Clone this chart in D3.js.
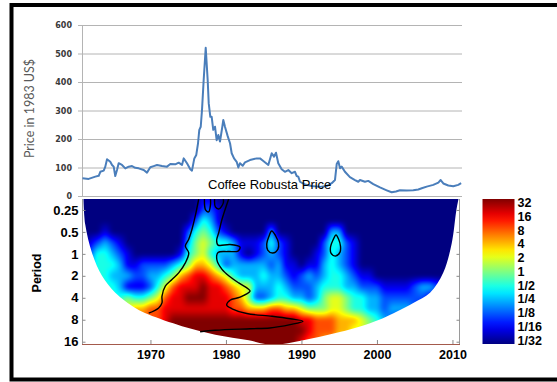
<!DOCTYPE html>
<html>
<head>
<meta charset="utf-8">
<script src="https://cdn.jsdelivr.net/npm/d3@7"></script>
<style>
  html, body { margin: 0; padding: 0; background: #fff; }
  svg { display: block; }
</style>
</head>
<body>
<svg id="chart" width="557" height="382"></svg>
<script>
// ---------- Coffee Robusta price (1983 US$) ----------
const priceYears = [
  1961.00, 1961.82, 1962.70, 1963.15, 1963.36, 1963.81, 1964.02, 1964.25, 1964.68, 1964.91,
  1965.13, 1965.34, 1965.57, 1965.79, 1966.23, 1966.67, 1967.12, 1967.56, 1967.99, 1968.44,
  1969.11, 1969.54, 1969.98, 1970.43, 1970.87, 1971.53, 1972.19, 1972.63, 1973.29, 1973.74,
  1974.18, 1974.40, 1974.84, 1975.28, 1975.50, 1975.81, 1976.07, 1976.30, 1976.47, 1976.66,
  1976.83, 1977.05, 1977.32, 1977.58, 1977.72, 1977.93, 1978.11, 1978.32, 1978.55, 1978.77,
  1978.99, 1979.21, 1979.52, 1979.65, 1979.87, 1980.23, 1980.54, 1980.76, 1981.07, 1981.42,
  1981.64, 1981.86, 1982.22, 1982.52, 1983.18, 1984.07, 1984.51, 1984.95, 1985.61, 1986.06,
  1986.36, 1986.63, 1986.93, 1987.38, 1987.81, 1988.26, 1988.71, 1989.15, 1989.37, 1989.58,
  1989.81, 1990.47, 1991.36, 1992.46, 1993.34, 1994.01, 1994.44, 1994.67, 1994.88, 1995.11,
  1995.33, 1995.76, 1996.42, 1997.09, 1997.53, 1997.75, 1998.41, 1998.85, 1999.52, 2000.40,
  2001.29, 2001.95, 2002.52, 2003.05, 2003.94, 2004.81, 2005.48, 2005.93, 2006.59, 2007.46,
  2008.13, 2008.44, 2008.79, 2009.45, 2010.11, 2010.77, 2011.15
];
const prices = [
   62,  60,  68,  71,  85,  89, 103, 129, 120, 109,
  103,  70,  91, 115, 109,  97, 103, 105,  99,  97,
   91,  82, 101, 105, 109, 105, 103, 112, 111, 117,
  109, 132, 115,  94,  89, 132, 144, 185, 232, 243,
  302, 407, 520, 407, 325, 278, 278, 232, 243, 196,
  214, 191, 243, 267, 243, 210, 185, 150, 132, 120,
  100, 115, 106, 118, 126, 132, 132, 123, 109, 150,
  138, 152, 115,  94,  85,  91,  80,  85,  70,  68,
   50,  40,  35,  32,  35,  45,  56, 112, 122,  97,
  103,  85,  66,  56,  50,  56,  50,  53,  42,  30,
   20,  13,  16,  20,  19,  20,  23,  27,  33,  39,
   47,  56,  44,  37,  34,  39,  45
];
const priceTicks = [0, 100, 200, 300, 400, 500, 600];

// ---------- Wavelet power spectrum ----------
const yearTicks = [1970, 1980, 1990, 2000, 2010];
const periodTicks = [0.25, 0.5, 1, 2, 4, 8, 16];
const periodTickLabels = ["0.25", "0.5", "1", "2", "4", "8", "16"];
const powerLabels = ["32", "16", "8", "4", "2", "1", "1/2", "1/4", "1/8", "1/16", "1/32"];

// Power grid: one column per year (1961..2011), one row per half octave of period.
// Each character is log2(power) + 5 (0 = 1/32 ... A = 32).
const gridYears = d3.range(1961, 2012);
const gridLog2Periods = [-2.5, -2, -1.5, -1, -0.5, 0, 0.5, 1, 1.5, 2, 2.5, 3, 3.5, 4];
const powerRows = [
  "0000000000" + "0000001100" + "0000000000" + "0000000000" + "0000000000" + "0",
  "0000000000" + "0000002210" + "0000000000" + "0000000000" + "0000000000" + "0",
  "0000000000" + "0000024310" + "0000000000" + "0000000000" + "0000000000" + "0",
  "0001000000" + "0000245421" + "0000030000" + "0003300000" + "0000000000" + "0",
  "0123210000" + "0000356544" + "3111242100" + "0024421000" + "0000000000" + "0",
  "1244321000" + "0001456433" + "3101232100" + "0124321000" + "0000000000" + "0",
  "2344431122" + "2234577642" + "3333323110" + "1134321000" + "0000000000" + "0",
  "2344333223" + "3457899876" + "4333433212" + "3234432110" + "0000000000" + "0",
  "4444431112" + "468999A998" + "7663334322" + "2344433222" + "1111233210" + "0",
  "4444445445" + "6899AAA999" + "8752234433" + "2356654433" + "2222221100" + "0",
  "6666666778" + "8999999999" + "8877788776" + "5556654433" + "2333210000" + "0",
  "8888888888" + "89AAAAAAAA" + "AAAAAAAAA9" + "9888777654" + "3210000000" + "0",
  "AAAAAAAAAA" + "AAAAAAAAAA" + "AAAAAAAAAA" + "9888776655" + "4321000000" + "0",
  "AAAAAAAAAA" + "AAAAAAAAAA" + "AAAAAAAAA9" + "8877665544" + "3321000000" + "0"
];

// Cone of influence (year, period)
const coiYears   = [1961.13, 1961.37, 1962.26, 1963.58, 1965.34, 1968.00, 1969.77, 1974.18, 1978.59, 1983.01,
                    1986.10, 1990.24, 1994.67, 1999.08, 2001.29, 2004.81, 2007.03, 2008.79, 2009.90, 2010.50, 2010.80];
const coiPeriods = [0.177, 0.40, 0.97, 2.0, 3.4, 5.5, 6.8, 9.8, 12.8, 15.3,
                    17.6, 15.3, 12.1, 8.9, 7.2, 4.7, 3.4, 1.8, 0.72, 0.26, 0.177];

// 95% significance contours (year, period)
const sigLeftEdge = [
  [1969.77, 6.51], [1971.09, 5.51], [1971.53, 4.70], [1971.53, 3.80], [1971.97, 2.77],
  [1972.85, 2.24], [1973.74, 1.82], [1974.62, 1.33], [1975.07, 0.97], [1974.62, 0.78],
  [1975.07, 0.63], [1975.50, 0.46], [1975.94, 0.30], [1976.39, 0.177]
];
const sigRightEdge = [
  [1980.36, 0.177], [1979.48, 0.336], [1979.04, 0.513], [1978.77, 0.646], [1978.95, 0.758],
  [1980.54, 0.745], [1981.86, 0.806], [1981.60, 0.915], [1980.27, 0.93], [1978.95, 0.96],
  [1978.81, 1.22], [1979.48, 1.63], [1980.54, 2.06], [1981.69, 2.5], [1982.92, 3.0],
  [1983.19, 3.25], [1981.86, 3.93], [1980.54, 4.32], [1980.10, 5.06], [1980.80, 5.66],
  [1982.75, 6.58], [1986.10, 7.16], [1988.50, 7.75], [1990.20, 8.39], [1988.50, 9.32],
  [1985.83, 10.37], [1983.19, 10.63], [1978.56, 11.15], [1976.58, 11.7]
];
const sigTopLoopA = [[1977.15, 0.177], [1977.30, 0.25], [1977.70, 0.266], [1977.95, 0.213], [1977.95, 0.177]];
const sigTopLoopB = [[1978.50, 0.177], [1978.60, 0.227], [1979.10, 0.242], [1979.65, 0.2], [1979.65, 0.177]];
const sigIsland1986 = [
  [1986.06, 0.486], [1986.59, 0.569], [1986.96, 0.71], [1986.89, 0.859],
  [1986.19, 0.975], [1985.53, 0.886], [1985.40, 0.733], [1985.66, 0.588]
];
const sigIsland1995 = [
  [1994.58, 0.552], [1994.91, 0.626], [1995.17, 0.781], [1995.11, 0.945],
  [1994.51, 1.072], [1993.91, 0.975], [1993.85, 0.806], [1994.18, 0.646]
];

// ---------- layout ----------
const FONT = "'Liberation Sans', Arial, sans-serif";
const svg = d3.select("#chart");

const plotL = 82, plotR = 460, topY0 = 25, topY1 = 196, wavY0 = 199, wavY1 = 344;

const x = d3.scaleLinear().domain([1961, 2011]).range([82.5, 460]);
const yPrice = d3.scaleLinear().domain([0, 600]).range([topY1, topY0]);
const yPeriod = d3.scaleLog().base(2).domain([0.177, 17.2]).range([wavY0, wavY1]);

// MATLAB-style jet colormap
function jet(t) {
  const c = v => Math.max(0, Math.min(1, v));
  return d3.rgb(
    Math.round(255 * c(1.5 - Math.abs(4 * t - 3))),
    Math.round(255 * c(1.5 - Math.abs(4 * t - 2))),
    Math.round(255 * c(1.5 - Math.abs(4 * t - 1)))
  );
}
const powerColor = d3.scaleSequential(jet).domain([-5, 5]).clamp(true);

// outer frame
svg.append("rect")
  .attr("x", 11.5).attr("y", 5).attr("width", 700).attr("height", 374.5)
  .attr("fill", "none").attr("stroke", "#000").attr("stroke-width", 4);

// ---------- top panel: price line ----------
const gPrice = svg.append("g").attr("transform", "translate(78,0)");
gPrice.call(d3.axisLeft(yPrice).tickValues(priceTicks)
    .tickSizeInner(-(462 - 78)).tickSizeOuter(0).tickPadding(6))
  .call(g => g.select(".domain").remove())
  .call(g => g.selectAll(".tick line").attr("stroke", "#b4b4b4").attr("stroke-width", 1))
  .call(g => g.selectAll(".tick text")
    .attr("font-family", "'DejaVu Sans', sans-serif").attr("font-weight", "bold")
    .attr("font-size", 8).attr("fill", "#3a3a3a"));

svg.append("line")
  .attr("x1", 82.5).attr("x2", 82.5).attr("y1", topY0).attr("y2", topY1)
  .attr("stroke", "#b4b4b4");

const priceLine = d3.line()
  .x((d, i) => x(priceYears[i]))
  .y(d => yPrice(d));
svg.append("path")
  .datum(prices)
  .attr("d", priceLine)
  .attr("fill", "none")
  .attr("stroke", "#4a7ebb")
  .attr("stroke-width", 2)
  .attr("stroke-linejoin", "round");

svg.append("text")
  .attr("x", 30).attr("y", 108.5)
  .attr("transform", "rotate(-90,30,108.5)")
  .attr("text-anchor", "middle").attr("dy", "0.35em")
  .attr("font-family", "Lato, 'Open Sans', sans-serif").attr("font-size", 12.5)
  .attr("fill", "#595959")
  .text("Price in 1983 US$");

svg.append("text")
  .attr("x", 208).attr("y", 189)
  .attr("font-family", FONT).attr("font-size", 13)
  .attr("fill", "#000")
  .text("Coffee Robusta Price");

// ---------- bottom panel: wavelet power ----------
const nC = gridYears.length, nR = gridLog2Periods.length;
const grid = powerRows.map(r => Array.from(r, ch => parseInt(ch, 11) - 5));
const dL = gridLog2Periods[1] - gridLog2Periods[0];

const cw = plotR - plotL, chh = wavY1 - wavY0, pad = 8;
const fw = cw + 2 * pad, fh = chh + 2 * pad;
let field = new Float32Array(fw * fh);
for (let j = 0; j < fh; j++) {
  const L = Math.log2(yPeriod.invert(wavY0 - pad + j + 0.5));
  let fj = (L - gridLog2Periods[0]) / dL;
  fj = Math.max(0, Math.min(nR - 1, fj));
  const j0 = Math.min(nR - 2, Math.floor(fj)), tj = fj - j0;
  for (let i = 0; i < fw; i++) {
    let fi = x.invert(plotL - pad + i + 0.5) - gridYears[0];
    fi = Math.max(0, Math.min(nC - 1, fi));
    const i0 = Math.min(nC - 2, Math.floor(fi)), ti = fi - i0;
    const a = grid[j0][i0], b = grid[j0][i0 + 1], c = grid[j0 + 1][i0], d = grid[j0 + 1][i0 + 1];
    field[j * fw + i] = (a * (1 - ti) + b * ti) * (1 - tj) + (c * (1 - ti) + d * ti) * tj;
  }
}
// soften the bilinear facets with a few box-blur passes
function boxBlur(src, r) {
  const tmp = new Float32Array(src.length), out = new Float32Array(src.length);
  for (let j = 0; j < fh; j++) for (let i = 0; i < fw; i++) {
    let s = 0, n = 0;
    for (let k = -r; k <= r; k++) { const ii = i + k; if (ii >= 0 && ii < fw) { s += src[j * fw + ii]; n++; } }
    tmp[j * fw + i] = s / n;
  }
  for (let j = 0; j < fh; j++) for (let i = 0; i < fw; i++) {
    let s = 0, n = 0;
    for (let k = -r; k <= r; k++) { const jj = j + k; if (jj >= 0 && jj < fh) { s += tmp[jj * fw + i]; n++; } }
    out[j * fw + i] = s / n;
  }
  return out;
}
field = boxBlur(boxBlur(field, 2), 2);

const canvas = document.createElement("canvas");
canvas.width = cw; canvas.height = chh;
const ctx = canvas.getContext("2d");
const img = ctx.createImageData(cw, chh);
for (let j = 0; j < chh; j++) for (let i = 0; i < cw; i++) {
  const col = powerColor(field[(j + pad) * fw + (i + pad)]);
  const k = 4 * (j * cw + i);
  img.data[k] = col.r; img.data[k + 1] = col.g; img.data[k + 2] = col.b; img.data[k + 3] = 255;
}
ctx.putImageData(img, 0, 0);

svg.append("clipPath").attr("id", "wavClip")
  .append("rect").attr("x", plotL).attr("y", wavY0).attr("width", cw).attr("height", chh);

const gWav = svg.append("g").attr("clip-path", "url(#wavClip)");
gWav.append("image")
  .attr("x", plotL).attr("y", wavY0).attr("width", cw).attr("height", chh)
  .attr("preserveAspectRatio", "none")
  .attr("href", canvas.toDataURL());

// cone of influence: blank out everything below it
const curve = d3.line().curve(d3.curveCatmullRom.alpha(0.5));
const coiPts = coiYears.map((yr, i) => [x(yr), yPeriod(coiPeriods[i])]);
const coiPath = "M" + plotL + "," + (wavY0 - 1) + "L" + curve(coiPts).slice(1) +
  "L" + plotR + "," + (wavY0 - 1) + "L" + plotR + "," + (wavY1 + 2) + "L" + plotL + "," + (wavY1 + 2) + "Z";
gWav.append("path").attr("d", coiPath).attr("fill", "#fff");

// significance contours
const toPx = arr => arr.map(([yr, p]) => [x(yr), yPeriod(p)]);
const openCurve = d3.line().curve(d3.curveCatmullRom.alpha(0.5));
const closedCurve = d3.line().curve(d3.curveCatmullRomClosed.alpha(0.5));
[sigLeftEdge, sigRightEdge, sigTopLoopA, sigTopLoopB].forEach(c => {
  gWav.append("path").attr("d", openCurve(toPx(c)))
    .attr("fill", "none").attr("stroke", "#000").attr("stroke-width", 1.4);
});
[sigIsland1986, sigIsland1995].forEach(c => {
  gWav.append("path").attr("d", closedCurve(toPx(c)))
    .attr("fill", "none").attr("stroke", "#000").attr("stroke-width", 1.4);
});

// frame and axes
svg.append("line").attr("x1", 459.5).attr("x2", 459.5).attr("y1", wavY0).attr("y2", wavY1)
  .attr("stroke", "#9a9a9a");
svg.append("line").attr("x1", 82.5).attr("x2", 82.5).attr("y1", wavY0).attr("y2", wavY1)
  .attr("stroke", "#9a9a9a");

const axisLabelStyle = g => g.selectAll(".tick text")
  .attr("font-family", FONT).attr("font-weight", "bold").attr("font-size", 13).attr("fill", "#000");

svg.append("g").attr("transform", "translate(82.5,0)")
  .call(d3.axisLeft(yPeriod).tickValues(periodTicks)
    .tickFormat((d, i) => periodTickLabels[i])
    .tickSizeInner(-3).tickSizeOuter(0).tickPadding(4))
  .call(g => g.select(".domain").remove())
  .call(g => g.selectAll(".tick line").attr("stroke", "#8a8a8a"))
  .call(axisLabelStyle);

svg.append("g").attr("transform", "translate(459.5,0)")
  .call(d3.axisRight(yPeriod).tickValues(periodTicks).tickFormat("")
    .tickSizeInner(-3).tickSizeOuter(0))
  .call(g => g.select(".domain").remove())
  .call(g => g.selectAll(".tick line").attr("stroke", "#8a8a8a"));

svg.append("g").attr("transform", `translate(0,${wavY1})`)
  .call(d3.axisBottom(x).tickValues(yearTicks).tickFormat(d3.format("d"))
    .tickSizeInner(-4).tickSizeOuter(0).tickPadding(6))
  .call(g => g.select(".domain").attr("stroke", "#a45a4c").attr("d", `M${plotL},0.5H${plotR}`))
  .call(g => g.selectAll(".tick line").attr("stroke", "#8a8a8a"))
  .call(g => g.selectAll(".tick text")
    .attr("font-family", FONT).attr("font-weight", "bold").attr("font-size", 12.5).attr("fill", "#000"));

svg.append("text")
  .attr("x", 37).attr("y", 273)
  .attr("transform", "rotate(-90,37,273)")
  .attr("text-anchor", "middle").attr("dy", "0.35em")
  .attr("font-family", FONT).attr("font-weight", "bold").attr("font-size", 12.5)
  .attr("fill", "#000")
  .text("Period");

// ---------- colour bar ----------
const cbX = 482.5, cbW = 32, cbY0 = 199, cbY1 = 344;
const grad = svg.append("defs").append("linearGradient")
  .attr("id", "jetGrad").attr("x1", 0).attr("y1", 1).attr("x2", 0).attr("y2", 0);
d3.range(0, 1.0001, 0.05).forEach(t => {
  grad.append("stop").attr("offset", t).attr("stop-color", powerColor(-5 + 10 * t).formatHex());
});
svg.append("rect")
  .attr("x", cbX).attr("y", cbY0).attr("width", cbW).attr("height", cbY1 - cbY0)
  .attr("fill", "url(#jetGrad)");

const cbLabelY = d3.scalePoint().domain(powerLabels).range([202.8, 340]);
svg.append("g").selectAll("text").data(powerLabels).join("text")
  .attr("x", 517.5).attr("y", d => cbLabelY(d)).attr("dy", "0.36em")
  .attr("font-family", FONT).attr("font-weight", "bold").attr("font-size", 12.5)
  .attr("fill", "#000")
  .text(d => d);
</script>
</body>
</html>
